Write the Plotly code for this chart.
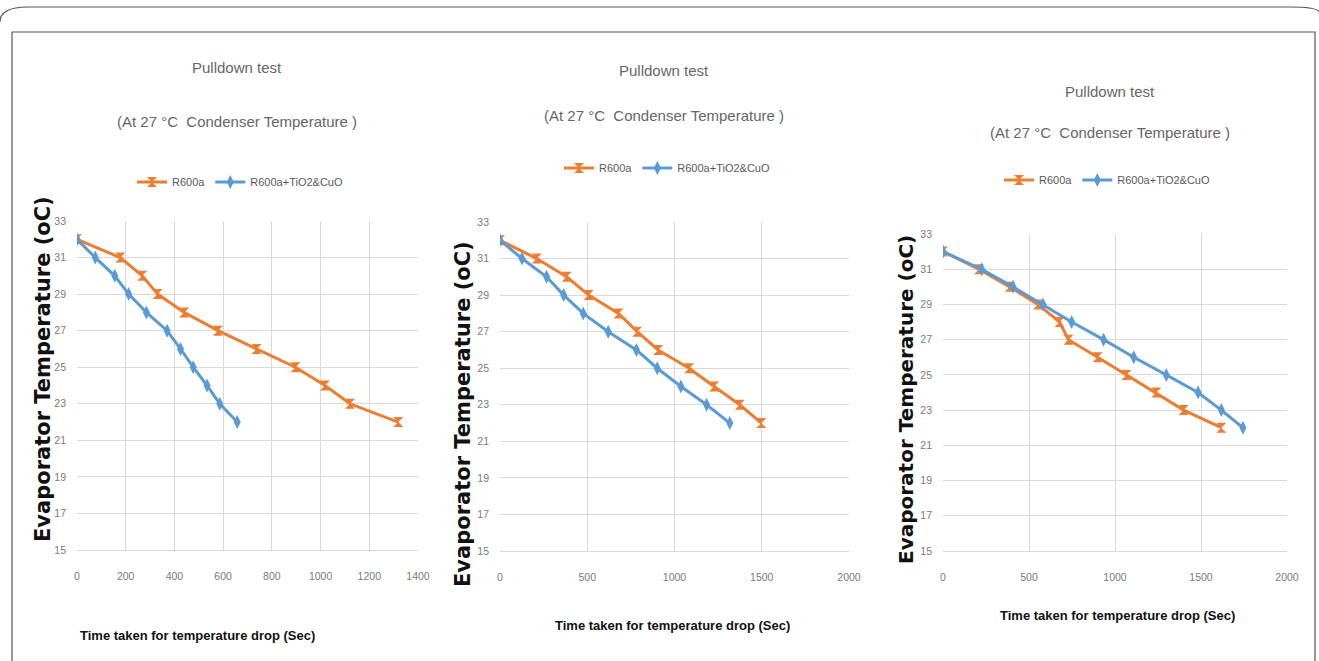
import plotly.graph_objects as go

W, H = 1319, 661

# ---------------- data ----------------
temps = [32, 31, 30, 29, 28, 27, 26, 25, 24, 23, 22]

p1_r600a_time = [0, 178, 268, 331, 440, 579, 737, 897, 1018, 1121, 1319]
p1_nano_time = [0, 75, 155, 212, 285, 370, 425, 477, 534, 586, 658]

p2_r600a_time = [0, 210, 382, 508, 679, 786, 906, 1084, 1227, 1374, 1498]
p2_nano_time = [0, 126, 267, 365, 477, 620, 782, 901, 1037, 1184, 1317]

p3_r600a_time = [0, 209, 388, 552, 678, 729, 899, 1066, 1240, 1399, 1618]
p3_nano_time = [0, 225, 407, 581, 748, 934, 1109, 1298, 1483, 1618, 1744]

series_names = ["R600a", "R600a+TiO2&CuO"]
title_line1 = "Pulldown test"
title_line2 = "(At 27 °C  Condenser Temperature )"
y_title = "Evaporator Temperature (oC)"
x_title = "Time taken for temperature drop (Sec)"
x_ranges = [[0, 1400], [0, 2000], [0, 2000]]
x_dticks = [200, 500, 500]
y_range = [15, 33]

# ---------------- style ----------------
ORANGE = "#ED7D31"
BLUE = "#5B9BD5"
GRID = "#d9d9d9"
TICK = "#7a7a7a"
SANS = "Liberation Sans, Arial, sans-serif"
WIDE_BOLD = "DejaVu Sans, Verdana, sans-serif"


def fx(px):
    return px / W


def fy(py):
    return 1 - py / H


panels = [
    dict(r=p1_r600a_time, n=p1_nano_time, xd=(77, 418), yd=(221, 550),
         t1=(237, 67), t2=(237, 121), leg=(240, 182),
         yt=(43, 369, 21), xt=(197, 635)),
    dict(r=p2_r600a_time, n=p2_nano_time, xd=(500, 849), yd=(222, 551),
         t1=(664, 70), t2=(664, 116), leg=(667, 168),
         yt=(463, 414, 21), xt=(672, 625)),
    dict(r=p3_r600a_time, n=p3_nano_time, xd=(943, 1287), yd=(234, 551),
         t1=(1110, 91), t2=(1110, 133), leg=(1107, 180),
         yt=(906, 400, 20), xt=(1117, 615)),
]

fig = go.Figure()
annotations = []
layout = {}

for i, p in enumerate(panels):
    k = "" if i == 0 else str(i + 1)
    legname = "legend" + k
    fig.add_trace(go.Scatter(
        x=p["r"], y=temps, mode="lines+markers", name=series_names[0],
        line=dict(color=ORANGE, width=3),
        marker=dict(symbol="hourglass", size=10, color=ORANGE),
        xaxis="x" + k, yaxis="y" + k, legend=legname,
    ))
    fig.add_trace(go.Scatter(
        x=p["n"], y=temps, mode="lines+markers", name=series_names[1],
        line=dict(color=BLUE, width=3),
        marker=dict(symbol="diamond-tall", size=10, color=BLUE),
        xaxis="x" + k, yaxis="y" + k, legend=legname,
    ))
    layout["xaxis" + k] = dict(
        domain=[fx(p["xd"][0]), fx(p["xd"][1])], anchor="y" + k,
        range=x_ranges[i], dtick=x_dticks[i], tick0=0,
        showgrid=True, gridcolor=GRID, gridwidth=1, zeroline=False,
        showline=True, linecolor=GRID, linewidth=1,
        ticks="", ticklabelstandoff=16, automargin=False,
        tickfont=dict(family=SANS, size=10.5, color=TICK),
        fixedrange=True,
    )
    layout["yaxis" + k] = dict(
        domain=[fy(p["yd"][1]), fy(p["yd"][0])], anchor="x" + k,
        range=y_range, dtick=2, tick0=15,
        showgrid=True, gridcolor=GRID, gridwidth=1, zeroline=False,
        showline=False, ticks="", ticklabelstandoff=10, automargin=False,
        tickfont=dict(family=SANS, size=10.5, color=TICK),
        fixedrange=True,
    )
    layout[legname] = dict(
        orientation="h", x=fx(p["leg"][0]), y=fy(p["leg"][1]),
        xanchor="center", yanchor="middle", xref="paper", yref="paper",
        font=dict(family=SANS, size=11, color="#595959"),
        bgcolor="rgba(0,0,0,0)", itemwidth=30, traceorder="normal",
    )
    annotations += [
        dict(text=title_line1, x=fx(p["t1"][0]), y=fy(p["t1"][1]),
             xref="paper", yref="paper", xanchor="center", yanchor="middle",
             showarrow=False, font=dict(family=SANS, size=15, color="#666666")),
        dict(text=title_line2, x=fx(p["t2"][0]), y=fy(p["t2"][1]),
             xref="paper", yref="paper", xanchor="center", yanchor="middle",
             showarrow=False, font=dict(family=SANS, size=15, color="#666666")),
        dict(text="<b>" + y_title + "</b>", x=fx(p["yt"][0]), y=fy(p["yt"][1]),
             xref="paper", yref="paper", xanchor="center", yanchor="middle",
             textangle=-90, showarrow=False,
             font=dict(family=WIDE_BOLD, size=p["yt"][2], color="#111111")),
        dict(text="<b>" + x_title + "</b>", x=fx(p["xt"][0]), y=fy(p["xt"][1]),
             xref="paper", yref="paper", xanchor="center", yanchor="middle",
             showarrow=False, font=dict(family=SANS, size=13, color="#111111")),
    ]

shapes = [
    # outer rounded frame (top part)
    dict(type="path", xref="paper", yref="paper",
         path=(f"M {fx(0)},{fy(22)} Q {fx(0)},{fy(7)} {fx(28)},{fy(7)} "
               f"L {fx(1290)},{fy(7)} Q {fx(1318)},{fy(7)} {fx(1319)},{fy(12)}"),
         line=dict(color="#555555", width=1.2)),
    # inner rectangular frame
    dict(type="path", xref="paper", yref="paper",
         path=(f"M {fx(12)},{fy(661)} L {fx(12)},{fy(32)} "
               f"L {fx(1315)},{fy(32)} L {fx(1315)},{fy(661)}"),
         line=dict(color="#555555", width=1.2)),
]

fig.update_layout(
    template="none",
    width=W, height=H,
    margin=dict(l=0, r=0, t=0, b=0, pad=0, autoexpand=False),
    paper_bgcolor="white", plot_bgcolor="white",
    showlegend=True,
    annotations=annotations, shapes=shapes,
    **layout,
)

fig.write_html(
    "out.html",
    config={"displayModeBar": False},
    post_script="document.body.style.margin='0px';document.body.style.overflow='hidden';",
)
